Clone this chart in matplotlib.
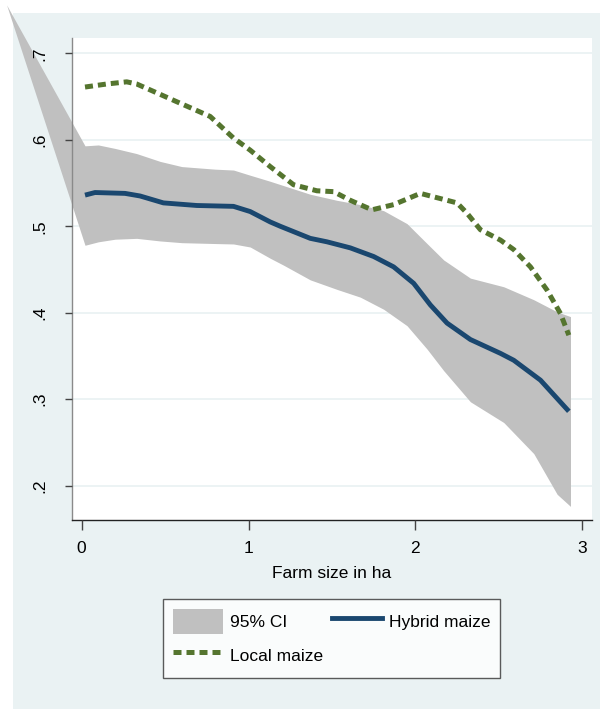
import matplotlib.pyplot as plt
from matplotlib.patches import Rectangle, Patch
from matplotlib.lines import Line2D

# fitted values
hybrid_x = [0.02, 0.08, 0.26, 0.35, 0.49, 0.69, 0.91, 1.01, 1.13, 1.19, 1.37, 1.47,
            1.61, 1.75, 1.87, 1.99, 2.09, 2.19, 2.33, 2.51, 2.59, 2.75, 2.92]
hybrid_y = [0.536, 0.539, 0.538, 0.535, 0.527, 0.524, 0.523, 0.517, 0.505, 0.500, 0.486, 0.482,
            0.475, 0.465, 0.453, 0.434, 0.409, 0.388, 0.369, 0.353, 0.345, 0.322, 0.286]

local_x = [0.02, 0.15, 0.27, 0.33, 0.43, 0.57, 0.77, 0.91, 1.01, 1.13, 1.27, 1.41, 1.51,
           1.61, 1.74, 1.87, 2.03, 2.25, 2.31, 2.39, 2.51, 2.59, 2.69, 2.79, 2.87, 2.92]
local_y = [0.661, 0.6645, 0.667, 0.6645, 0.656, 0.644, 0.627, 0.602, 0.588, 0.569, 0.548, 0.541, 0.540,
           0.530, 0.519, 0.525, 0.538, 0.527, 0.515, 0.496, 0.484, 0.473, 0.453, 0.426, 0.399, 0.374]

# 95% CI band (first point is the stray point Stata drew outside the plot)
ci_x = [-0.45, 0.02, 0.10, 0.20, 0.33, 0.47, 0.60, 0.80, 0.91, 1.01, 1.13, 1.21, 1.37,
        1.53, 1.67, 1.81, 1.95, 2.07, 2.17, 2.33, 2.53, 2.71, 2.85, 2.93]
ci_hi = [0.756, 0.593, 0.594, 0.590, 0.584, 0.575, 0.569, 0.566, 0.565, 0.559, 0.552, 0.547, 0.537,
         0.530, 0.525, 0.518, 0.503, 0.480, 0.461, 0.440, 0.430, 0.415, 0.401, 0.3955]
ci_lo = [0.756, 0.478, 0.482, 0.485, 0.486, 0.483, 0.481, 0.480, 0.4795, 0.476, 0.463, 0.455, 0.438,
         0.427, 0.418, 0.404, 0.385, 0.358, 0.333, 0.297, 0.273, 0.237, 0.190, 0.176]

y_ticks = [0.2, 0.3, 0.4, 0.5, 0.6, 0.7]
y_labels = [".2", ".3", ".4", ".5", ".6", ".7"]
x_ticks = [0, 1, 2, 3]

BG = "#EAF2F3"
CI_GRAY = "#C0C0C0"
NAVY = "#1A476F"
GREEN = "#55752F"
FS = 12.5

plt.rcParams["font.family"] = ["Liberation Sans", "DejaVu Sans"]

fig = plt.figure(figsize=(6, 7.09), dpi=100, facecolor="white")
fig.patches.append(Rectangle((13 / 600, 0), 1 - 13 / 600, 1 - 13 / 709,
                             transform=fig.transFigure, facecolor=BG,
                             edgecolor="none", zorder=-10))

ax = fig.add_axes([0.12, 0.2666, 0.8667, 0.6798])
ax.set_facecolor("white")

# gridlines under the band, tick labels over it
for yt in y_ticks:
    ax.axhline(yt, color=BG, lw=1.3, zorder=1)

ax.fill_between(ci_x, ci_lo, ci_hi, color=CI_GRAY, linewidth=0, clip_on=False, zorder=2)
ax.plot(hybrid_x, hybrid_y, color=NAVY, lw=3.5, solid_capstyle="butt", zorder=3)
ax.plot(local_x, local_y, color=GREEN, lw=3.6, dashes=(1.6, 1.0),
        dash_capstyle="butt", zorder=3)

ax.set_xlim(-0.058, 3.059)
ax.set_ylim(0.1603, 0.7177)

ax.set_yticks(y_ticks)
ax.set_yticklabels(y_labels, rotation=90, va="center")
ax.set_xticks(x_ticks)
ax.set_axisbelow(False)

for side in ["top", "right"]:
    ax.spines[side].set_visible(False)
ax.spines["left"].set_color("#8A8A8A")
ax.spines["left"].set_linewidth(1.0)
ax.spines["bottom"].set_color("#222222")
ax.spines["bottom"].set_linewidth(1.0)

ax.tick_params(axis="y", length=5, width=1, color="#444444", pad=13, labelsize=FS)
ax.tick_params(axis="x", length=7, width=1, color="#444444", pad=8, labelsize=FS)
ax.set_xlabel("Farm size in ha", fontsize=FS, labelpad=7)

handles = [
    Patch(facecolor=CI_GRAY, edgecolor="none", label="95% CI"),
    Line2D([], [], color=GREEN, lw=3.6, dashes=(1.6, 1.0), dash_capstyle="butt",
           label="Local maize"),
    Line2D([], [], color=NAVY, lw=3.5, label="Hybrid maize"),
]
leg = fig.legend(handles=handles, ncol=2, loc="upper left",
                 bbox_to_anchor=(0.2717, 0.1551), borderaxespad=0,
                 fontsize=FS, frameon=True, fancybox=False,
                 handlelength=2.9, handleheight=1.9, handletextpad=0.4,
                 columnspacing=0.5, labelspacing=0.5, borderpad=0.55)
leg.get_frame().set_edgecolor("#333333")
leg.get_frame().set_linewidth(1.0)

fig.savefig("out.png", dpi=100, facecolor="white")
